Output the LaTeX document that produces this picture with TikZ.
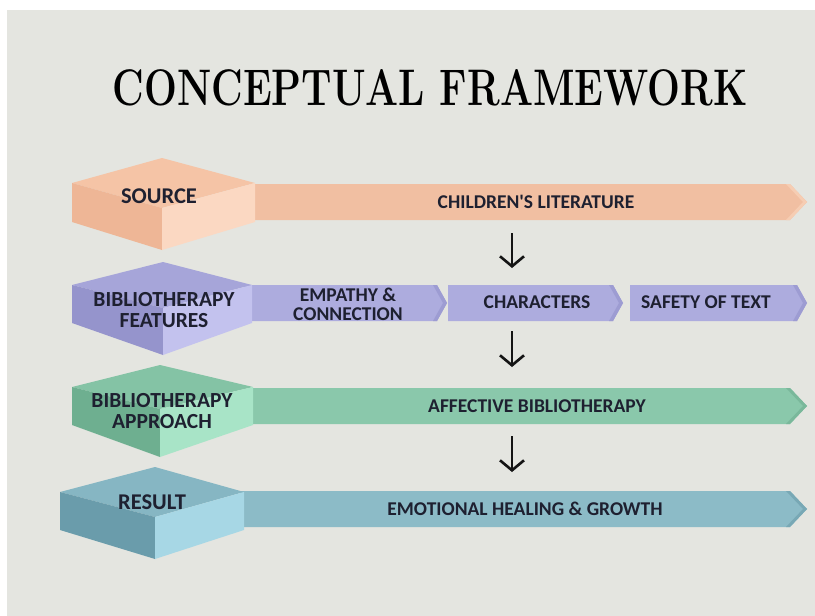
\documentclass[tikz,border=0pt]{standalone}
\usepackage{fontspec}
\usepackage{graphicx}
\usetikzlibrary{arrows.meta}
\newfontfamily\lblfont{Carlito}
\definecolor{bg}{HTML}{E4E5E0}
\definecolor{txt}{HTML}{1E2030}
\definecolor{r1bar}{HTML}{F1BFA2}\definecolor{r1tip}{HTML}{F6CDB3}
\definecolor{r1top}{HTML}{F5C4A6}\definecolor{r1left}{HTML}{EEB696}\definecolor{r1right}{HTML}{FBD8C2}
\definecolor{r2bar}{HTML}{ADACDE}\definecolor{r2tip}{HTML}{9D9CD2}
\definecolor{r2top}{HTML}{A6A5D9}\definecolor{r2left}{HTML}{9594CC}\definecolor{r2right}{HTML}{C3C2EE}
\definecolor{r3bar}{HTML}{8AC8AB}\definecolor{r3tip}{HTML}{7AB89B}
\definecolor{r3top}{HTML}{84C3A5}\definecolor{r3left}{HTML}{6EAF90}\definecolor{r3right}{HTML}{A8E4C7}
\definecolor{r4bar}{HTML}{8CBBC7}\definecolor{r4tip}{HTML}{78A8B5}
\definecolor{r4top}{HTML}{86B6C3}\definecolor{r4left}{HTML}{6A9CAB}\definecolor{r4right}{HTML}{A7D7E5}
\tikzset{
  lbl/.style={font=\lblfont\bfseries\fontsize{19.5}{19}\selectfont, text=txt, align=center, inner sep=0pt},
  hexlbl/.style={font=\lblfont\bfseries\fontsize{21.5}{20.5}\selectfont, text=txt, align=center, inner sep=0pt},
  hexone/.style={hexlbl, font=\lblfont\bfseries\fontsize{22.5}{22}\selectfont},
  flow/.style={line width=2.6pt, draw=black!92, -{Straight Barb[length=10pt,width=24pt]}}
}
% #1 prefix, #2 L, #3 C, #4 R, #5 T, #6 U, #7 D, #8 B
\newcommand\hexshape[8]{%
  \fill[#1top] (#2,#6) -- (#3,#5) -- (#4,#6) -- (#3,{2*#6-#5}) -- cycle;
  \fill[#1left] (#2,#6) -- (#3,{2*#6-#5}) -- (#3,#8) -- (#2,#7) -- cycle;
  \fill[#1right] (#4,#6) -- (#3,{2*#6-#5}) -- (#3,#8) -- (#4,#7) -- cycle;
}
% #1 prefix, #2 x0, #3 x1 (straight end), #4 tip x, #5 top y, #6 bottom y
\newcommand\barshape[6]{%
  \fill[#1bar] (#2,#5) -- (#3,#5) -- (#4,{(#5+#6)/2}) -- (#3,#6) -- (#2,#6) -- cycle;
  \fill[#1tip] (#3,#5) -- (#4,{(#5+#6)/2}) -- (#3,#6) -- ({#3-4},#6) -- ({#4-4},{(#5+#6)/2}) -- ({#3-4},#5) -- cycle;
}
\begin{document}
\begin{tikzpicture}[x=1pt,y=-1pt]
\useasboundingbox (0,0) rectangle (815,616);
\fill[white] (0,0) rectangle (815,616);
\fill[bg] (7,10) rectangle (815,616);

\node[inner sep=0pt] (title) at (430,88)
  {\resizebox{635pt}{36pt}{\fontsize{30}{30}\selectfont\bfseries CONCEPTUAL FRAMEWORK}};

% Row 1
\barshape{r1}{250}{790}{807}{184}{220}
\hexshape{r1}{72}{162}{255}{158}{183}{222}{250}
\node[hexone] (src) at (159,196) {SOURCE};
\node[lbl] (lit) at (536,202) {CHILDREN'S LITERATURE};

% Row 2
\barshape{r2}{245}{437}{447}{285}{321}
\barshape{r2}{448}{613}{623}{285}{321}
\barshape{r2}{630}{797}{807}{285}{321}
\hexshape{r2}{72}{163}{252}{262}{285}{323}{355}
\node[hexlbl] (feat) at (164,310) {BIBLIOTHERAPY\\FEATURES};
\node[lbl] (emp) at (348,304) {EMPATHY \&\\CONNECTION};
\node[lbl] (chr) at (537,302) {CHARACTERS};
\node[lbl] (saf) at (706,302) {SAFETY OF TEXT};

% Row 3
\barshape{r3}{248}{790}{807}{388}{424}
\hexshape{r3}{72}{160}{253}{365}{387}{425}{457}
\node[hexlbl] (appr) at (162,411) {BIBLIOTHERAPY\\APPROACH};
\node[lbl] (aff) at (537,406) {AFFECTIVE BIBLIOTHERAPY};

% Row 4
\barshape{r4}{240}{790}{807}{491}{527}
\hexshape{r4}{60}{155}{244}{467}{492}{530}{559}
\node[hexone] (res) at (152,502) {RESULT};
\node[lbl] (emo) at (525,509) {EMOTIONAL HEALING \& GROWTH};

% Arrows
\coordinate (a1s) at (512,233); \coordinate (a1e) at (512,268);
\coordinate (a2s) at (512,331); \coordinate (a2e) at (512,367);
\coordinate (a3s) at (512,436); \coordinate (a3e) at (512,472);
\draw[flow] (a1s) -- (a1e);
\draw[flow] (a2s) -- (a2e);
\draw[flow] (a3s) -- (a3e);
\end{tikzpicture}
\end{document}
